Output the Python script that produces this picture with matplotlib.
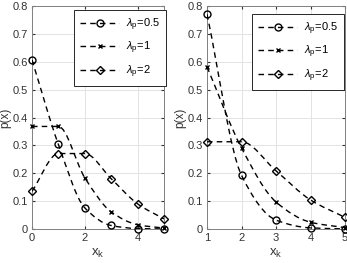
import matplotlib.pyplot as plt
import numpy as np
from matplotlib.path import Path
from matplotlib.patches import PathPatch

plt.rcParams['font.family'] = ['Liberation Sans', 'DejaVu Sans']
plt.rcParams['mathtext.fontset'] = 'custom'
plt.rcParams['mathtext.rm'] = 'Liberation Sans'
plt.rcParams['mathtext.it'] = 'Liberation Sans:italic'

# left panel: Poisson pmf
x_left = [0, 1, 2, 3, 4, 5]
p_left_05 = [0.6065, 0.3033, 0.0758, 0.0126, 0.0016, 0.0002]
p_left_1 = [0.3679, 0.3679, 0.1839, 0.0613, 0.0153, 0.0031]
p_left_2 = [0.1353, 0.2707, 0.2707, 0.1804, 0.0902, 0.0361]

# right panel: zero-truncated
x_right = [1, 2, 3, 4, 5]
p_right_05 = [0.7707, 0.1927, 0.0321, 0.0040, 0.0004]
p_right_1 = [0.5820, 0.2910, 0.0970, 0.0243, 0.0049]
p_right_2 = [0.3130, 0.3130, 0.2087, 0.1043, 0.0417]

labels = [r'$\lambda_{\rm p}$=0.5', r'$\lambda_{\rm p}$=1', r'$\lambda_{\rm p}$=2']
markers = ['o', 'x', 'D']
msizes = [5, 3.5, 4.5]
DASH = (0, (4, 3))


def smooth_path(x, y):
    # monotone cubic through the points, drawn as bezier segments
    x = np.asarray(x, float)
    y = np.asarray(y, float)
    h = np.diff(x)
    d = np.diff(y) / h
    m = np.zeros_like(y)
    m[0], m[-1] = d[0], d[-1]
    for i in range(1, len(x) - 1):
        if d[i - 1] * d[i] > 0:
            w1 = 2 * h[i] + h[i - 1]
            w2 = h[i] + 2 * h[i - 1]
            m[i] = (w1 + w2) / (w1 / d[i - 1] + w2 / d[i])
    verts = [(x[0], y[0])]
    codes = [Path.MOVETO]
    for i in range(len(x) - 1):
        verts += [(x[i] + h[i] / 3, y[i] + m[i] * h[i] / 3),
                  (x[i + 1] - h[i] / 3, y[i + 1] - m[i + 1] * h[i] / 3),
                  (x[i + 1], y[i + 1])]
        codes += [Path.CURVE4] * 3
    return Path(verts, codes)


def panel(ax, x, series, xticks, legend_pos):
    for y, mk, ms in zip(series, markers, msizes):
        ax.add_patch(PathPatch(smooth_path(x, y), fill=False, ec='black',
                               lw=1.0, ls=DASH, zorder=3))
        ax.plot(x, y, ls='none', marker=mk, ms=ms, mfc='none',
                mec='black', mew=1.0, zorder=4, clip_on=False)
    h = []
    for mk, ms in zip(markers, msizes):
        ln, = ax.plot([], [], ls=DASH, color='black', lw=1.0,
                      marker=mk, ms=ms, mfc='none', mec='black', mew=1.0)
        h.append(ln)
    leg = ax.legend(h, labels, loc='upper right', bbox_to_anchor=legend_pos,
                    fontsize=8, frameon=True, fancybox=False,
                    edgecolor='#262626', handlelength=3.5, borderpad=0.55,
                    labelspacing=0.65, handletextpad=0.6, framealpha=1,
                    borderaxespad=0)
    leg.get_frame().set_linewidth(0.7)
    ax.set_xlim(x[0], x[-1])
    ax.set_ylim(0, 0.8)
    ax.set_xticks(xticks)
    ax.set_yticks(np.arange(0, 0.81, 0.1))
    ax.set_yticklabels(['0', '0.1', '0.2', '0.3', '0.4', '0.5', '0.6', '0.7', '0.8'])
    ax.grid(True, color='#e3e3e3', lw=0.7)
    ax.set_axisbelow(True)
    ax.tick_params(direction='in', length=2.5, labelsize=8, top=True,
                   right=True, pad=3, colors='#333333')
    for s in ax.spines.values():
        s.set_linewidth(0.7)
        s.set_color('#808080')
    ax.set_xlabel(r'x$_{\rm k}$', fontsize=9.5, labelpad=3, color='#333333')
    ax.set_ylabel('p(x)', fontsize=8.5, labelpad=1, color='#333333')


fig = plt.figure(figsize=(3.47, 2.63), dpi=100)
ax1 = fig.add_axes([32 / 347, 1 - 229 / 263, 132 / 347, 223 / 263])
ax2 = fig.add_axes([207 / 347, 1 - 229 / 263, 138 / 347, 223 / 263])

panel(ax1, x_left, [p_left_05, p_left_1, p_left_2], [0, 2, 4], (1.015, 0.982))
panel(ax2, x_right, [p_right_05, p_right_1, p_right_2], [1, 2, 3, 4, 5], (0.993, 0.964))

fig.savefig('out.png', dpi=100)
